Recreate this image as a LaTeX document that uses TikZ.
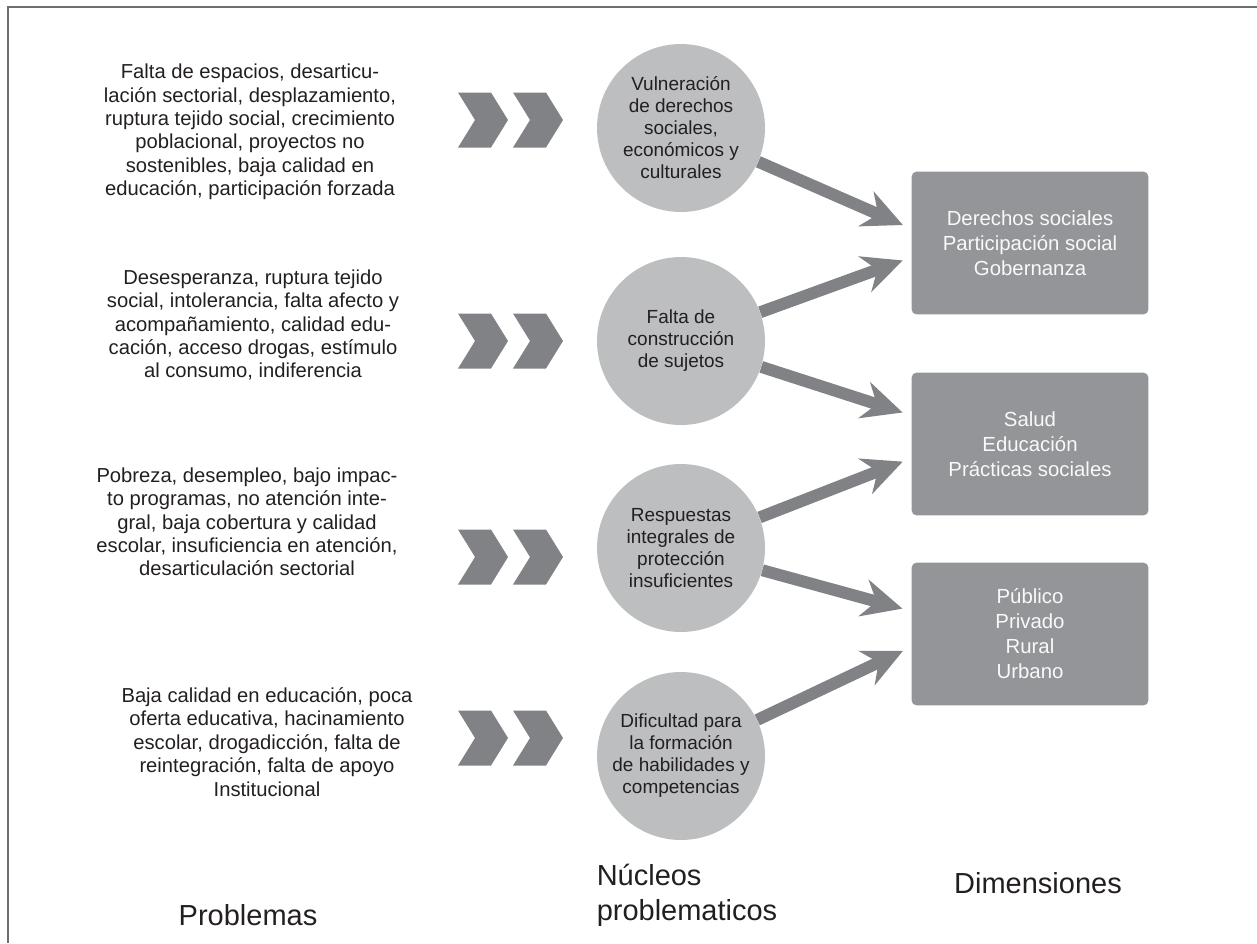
\documentclass[tikz,border=0pt]{standalone}
\usepackage{fontspec}
\setmainfont{Liberation Sans}
\usepackage{xcolor}
\usetikzlibrary{arrows.meta,positioning,calc}

\definecolor{inkgray}{HTML}{231F20}
\definecolor{discgray}{HTML}{BCBEC0}
\definecolor{boxgray}{HTML}{939598}
\definecolor{arrgray}{HTML}{808285}
\definecolor{framegray}{HTML}{6D6E71}

\begin{document}
\begin{tikzpicture}[x=0.02cm, y=-0.02cm,
  prob/.style={align=center, text=inkgray, inner sep=0pt, font=\fontsize{11.5}{13.3}\selectfont},
  disc/.style={circle, fill=discgray, minimum size=3.36cm, inner sep=0pt, align=center, text=inkgray, font=\fontsize{10.8}{12.5}\selectfont},
  dim/.style={fill=boxgray, rounded corners=3pt, minimum width=4.74cm, minimum height=2.86cm, align=center, text=white!94!boxgray, font=\fontsize{11.6}{14.2}\selectfont},
  colhead/.style={text=inkgray, inner sep=0pt, font=\fontsize{16.5}{19.9}\selectfont},
  arr/.style={draw=arrgray, line width=6.8pt, -{Stealth[length=8mm, width=7.5mm, inset=2.6mm]}, shorten >=1.8mm},
  chev/.pic={\fill[arrgray] (0,-27.5) -- (33,-27.5) -- (50,0) -- (33,27.5) -- (0,27.5) -- (17,0) -- cycle;}]
  \useasboundingbox (0,0) rectangle (1257,943);
  % frame (top and left only)
  \draw[framegray, line width=1.1pt] (1257,7) -- (8,7) -- (8,943);

  % problemas
  \node[prob] (p1) at (250,132) {Falta de espacios, desarticu-\\lación sectorial, desplazamiento,\\ruptura tejido social, crecimiento\\poblacional, proyectos no\\sostenibles, baja calidad en\\educación, participación forzada};
  \node[prob] (p2) at (253,325) {Desesperanza, ruptura tejido\\social, intolerancia, falta afecto y\\acompañamiento, calidad edu-\\cación, acceso drogas, estímulo\\al consumo, indiferencia};
  \node[prob] (p3) at (247,522) {Pobreza, desempleo, bajo impac-\\to programas, no atención inte-\\gral, baja cobertura y calidad\\escolar, insuficiencia en atención,\\desarticulación sectorial};
  \node[prob] (p4) at (267,742) {Baja calidad en educación, poca\\oferta educativa, hacinamiento\\escolar, drogadicción, falta de\\reintegración, falta de apoyo\\Institucional};

  \foreach \yy in {120,341,557,738} {
    \pic at (458,\yy) {chev};
    \pic at (513,\yy) {chev};
  }

  % nucleos
  \node[disc] (c1) at (681,128) {Vulneración\\de derechos\\sociales,\\económicos y\\culturales};
  \node[disc] (c2) at (681,341) {Falta de\\construcción\\de sujetos};
  \node[disc] (c3) at (681,548) {Respuestas\\integrales de\\protección\\insuficientes};
  \node[disc] (c4) at (681,756) {Dificultad para\\la formación\\de habilidades y\\competencias};

  % dimensiones
  \node[dim] (b1) at (1030,243) {Derechos sociales\\Participación social\\Gobernanza};
  \node[dim] (b2) at (1030,444) {Salud\\Educación\\Prácticas sociales};
  \node[dim] (b3) at (1030,634) {Público\\Privado\\Rural\\Urbano};

  \draw[arr] (c1) -- ($(b1.north west)!0.40!(b1.south west)$);
  \draw[arr] (c2) -- ($(b1.north west)!0.60!(b1.south west)$);
  \draw[arr] (c2) -- ($(b2.north west)!0.30!(b2.south west)$);
  \draw[arr] (c3) -- ($(b2.north west)!0.60!(b2.south west)$);
  \draw[arr] (c3) -- ($(b3.north west)!0.34!(b3.south west)$);
  \draw[arr] (c4) -- ($(b3.north west)!0.59!(b3.south west)$);

  % column heads
  \node[colhead] (h1) at (248,915) {Problemas};
  \node[colhead, align=left] (h2) at (687,895) {Núcleos\\problematicos};
  \node[colhead] (h3) at (1038,883) {Dimensiones};
\end{tikzpicture}
\end{document}
